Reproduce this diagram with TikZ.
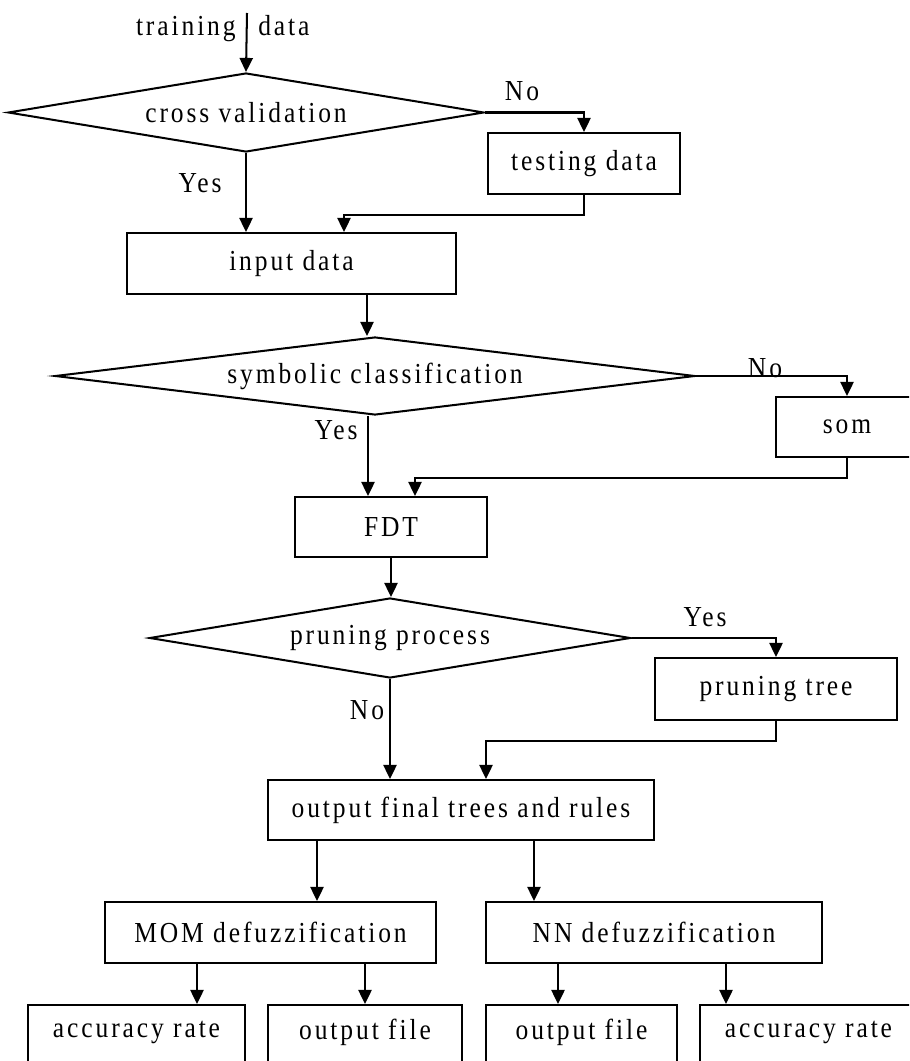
\documentclass[tikz,border=0pt]{standalone}
\usepackage{fontspec}
\setmainfont{Liberation Serif}[LetterSpace=10,FakeStretch=0.88]
\usetikzlibrary{shapes.geometric,arrows.meta,calc}
\newdimen\pxu \pxu=0.02cm

\begin{document}
\begin{tikzpicture}[x=0.02cm,y=-0.02cm,
  every node/.style={font=\fontsize{16.5}{19}\selectfont},
  box/.style={draw, line width=1.15pt, rectangle, inner sep=0pt},
  cond/.style={draw, line width=1.15pt, diamond, aspect=6, inner sep=0pt},
  flow/.style={line width=1.15pt, -{Triangle[length=8pt,width=7.5pt]}},
  lbl/.style={inner sep=0pt}]
\useasboundingbox (0,0) rectangle (909,1061);
\clip (0,0) rectangle (909,1061);

% entry
\coordinate (start) at (247,13);
\node[lbl, anchor=base east] (trn) at (236,36) {training};
\node[lbl, anchor=base west] (dat) at (258,36) {data};

% first decision
\node[cond, minimum width=476\pxu, minimum height=79\pxu] (cv) at (246,112.5) {cross validation};
\node[box, minimum width=192\pxu, minimum height=61\pxu] (test) at (584,163.5) {testing data};
\node[box, minimum width=329\pxu, minimum height=61\pxu] (input) at (291.5,263.5) {input data};
\node[lbl] (no1) at (522,91) {No};
\node[lbl] (yes1) at (200,183) {Yes};

\draw[flow] (start) -- (cv.north);
\draw[flow] (cv.east) -| (test.north);
\draw[flow] (test.south) -- ++(0,20) -| ([xshift=52.5\pxu]input.north);
\draw[flow] (cv.south) -- (cv.south |- input.north);

% second decision
\node[cond, minimum width=640\pxu, minimum height=78\pxu] (sc) at (375,376) {symbolic classification};
\node[box, minimum width=142\pxu, minimum height=60\pxu] (som) at (847,427) {som};
\node[box, minimum width=192\pxu, minimum height=60\pxu] (fdt) at (391,527) {FDT};
\node[lbl] (no2) at (765,368) {No};
\node[lbl] (yes2) at (336,430) {Yes};

\draw[flow] ([xshift=75.5\pxu]input.south) -- ([xshift=75.5\pxu]input.south |- sc.north);
\draw[flow] (sc.east) -| (som.north);
\draw[flow] (som.south) -- ++(0,20) -| ([xshift=24\pxu]fdt.north);
\draw[flow] ([xshift=-23\pxu]fdt.north |- sc.south) -- ([xshift=-23\pxu]fdt.north);

% third decision
\node[cond, minimum width=481\pxu, minimum height=80\pxu] (pp) at (390,638) {pruning process};
\node[box, minimum width=242\pxu, minimum height=62\pxu] (pt) at (776,689) {pruning tree};
\node[box, minimum width=386\pxu, minimum height=60\pxu] (out) at (461,810) {output final trees and rules};
\node[lbl] (yes3) at (705,617) {Yes};
\node[lbl] (no3) at (367,710) {No};

\draw[flow] (fdt.south) -- (fdt.south |- pp.north);
\draw[flow] (pp.east) -| (pt.north);
\draw[flow] (pt.south) -- ++(0,20) -| ([xshift=25\pxu]out.north);
\draw[flow] (pp.south) -- (pp.south |- out.north);

% defuzzification
\node[box, minimum width=331\pxu, minimum height=61\pxu] (mom) at (270.5,932.5) {MOM defuzzification};
\node[box, minimum width=336\pxu, minimum height=61\pxu] (nn) at (654,932.5) {NN defuzzification};

\draw[flow] ([xshift=-144\pxu]out.south) -- ([xshift=-144\pxu]out.south |- mom.north);
\draw[flow] ([xshift=73\pxu]out.south) -- ([xshift=73\pxu]out.south |- nn.north);

% results (boxes run past the lower edge)
\node[box, anchor=north, minimum width=217\pxu, minimum height=100\pxu] (acc1) at (136.5,1004) {};
\node[box, anchor=north, minimum width=194\pxu, minimum height=100\pxu] (of1) at (365,1004) {};
\node[box, anchor=north, minimum width=191\pxu, minimum height=100\pxu] (of2) at (581.5,1004) {};
\node[box, anchor=north, minimum width=217\pxu, minimum height=100\pxu] (acc2) at (808.5,1004) {};
\node[lbl] (acc1t) at ([yshift=-28\pxu]acc1.north) {accuracy rate};
\node[lbl] (of1t) at ([yshift=-28\pxu]of1.north) {output file};
\node[lbl] (of2t) at ([yshift=-28\pxu]of2.north) {output file};
\node[lbl] (acc2t) at ([yshift=-28\pxu]acc2.north) {accuracy rate};

\draw[flow] ([xshift=-73.5\pxu]mom.south) -- ([xshift=-73.5\pxu]mom.south |- acc1.north);
\draw[flow] ([xshift=94.5\pxu]mom.south) -- ([xshift=94.5\pxu]mom.south |- of1.north);
\draw[flow] ([xshift=-96\pxu]nn.south) -- ([xshift=-96\pxu]nn.south |- of2.north);
\draw[flow] ([xshift=72\pxu]nn.south) -- ([xshift=72\pxu]nn.south |- acc2.north);
\end{tikzpicture}
\end{document}
